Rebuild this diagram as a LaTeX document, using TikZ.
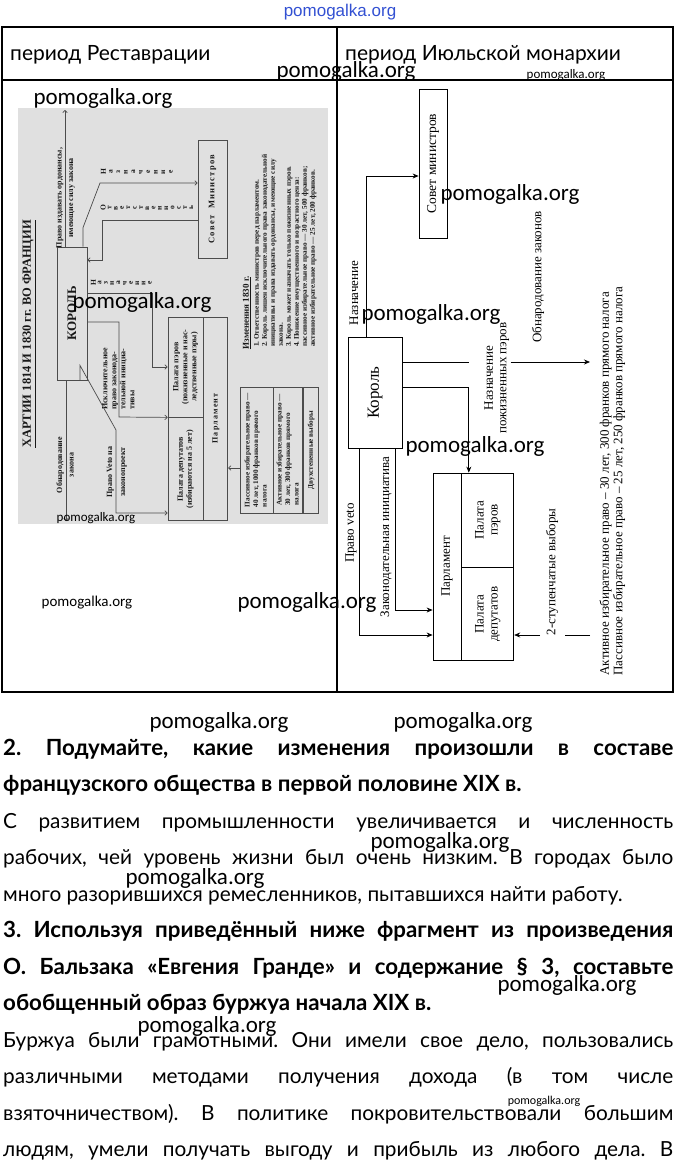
\documentclass[tikz,border=0pt]{standalone}
\usepackage{fontspec}
\setmainfont{Liberation Serif}
\newfontfamily\bodyfont{Lato}
\newfontfamily\wmfont{Carlito}
\newfontfamily\wmtopfont{Liberation Sans}
\usepackage{graphicx}
\usetikzlibrary{positioning,arrows.meta}
\frenchspacing
\definecolor{wmblue}{RGB}{50,80,210}
\tikzstyle{scan box}=[draw=black!70, line width=0.8pt, inner sep=0pt, text=black!90, font=\fontsize{8}{9}\selectfont\bfseries]
\tikzstyle{scan edge}=[-{To[length=3pt,width=5pt]}, draw=black!70, line width=0.7pt]
\tikzstyle{scan text}=[inner sep=0pt, text=black!90, font=\fontsize{8}{9}\selectfont\bfseries]
\tikzstyle{scan letter}=[inner sep=0pt, rotate=90, text=black!90, font=\fontsize{7.5}{8}\selectfont\bfseries]
\tikzstyle{plan box}=[draw, line width=0.8pt, inner sep=0pt, font=\fontsize{13}{14}\selectfont]
\tikzstyle{plan edge}=[-{Stealth[length=6pt,width=5pt]}, line width=0.7pt]
\tikzstyle{plan text}=[inner sep=0pt, font=\fontsize{13}{13.5}\selectfont]
\tikzstyle{watermark}=[inner sep=0pt, font=\wmfont\fontsize{23}{23}\selectfont]
\tikzstyle{small watermark}=[inner sep=0pt, font=\wmfont\fontsize{13}{13}\selectfont]
\tikzstyle{header}=[anchor=base west, inner sep=0pt, font=\bodyfont\fontsize{21}{21}\selectfont]
\tikzstyle{body line}=[anchor=base west, inner sep=0pt, font=\bodyfont\fontsize{20.8}{21}\selectfont]
\tikzstyle{bold line}=[anchor=base west, inner sep=0pt, font=\bodyfont\fontsize{22.3}{23}\selectfont\bfseries]
\newcommand{\vtext}[2][c]{\rotatebox{90}{\begin{tabular}{@{}#1@{}}#2\end{tabular}}}
\newcommand{\wmnode}[3][]{
  \node [watermark, #1] (#2) at (#3) {pomogalka.org}
}
\newcommand{\bodyline}[4][body line]{
  \node [#1] (#2) at (3,#3) {#4}
}
\newcommand{\fullline}[4][body line]{
  \node [#1] (#2) at (3,#3) {\makebox[670pt][s]{#4}}
}

\begin{document}
\begin{tikzpicture}[x=1pt,y=-1pt]
        \useasboundingbox (0,0) rectangle (675,1163);
        \node [inner sep=0pt, text=wmblue, font=\wmtopfont\fontsize{17}{17}\selectfont] (wmTop) at (340,12) {pomogalka.org};

        \draw [line width=1.2pt] (2,27) rectangle (673,692);
        \draw [line width=1.2pt] (2,80) -- (673,80);
        \draw [line width=1.2pt] (337,27) -- (337,692);
        \node [header] (hdrLeft) at (10,60) {период Реставрации};
        \node [header] (hdrRight) at (345,60) {период Июльской монархии};

        \fill [black!12] (18,108) rectangle (328,524);
        \node [scan text, font=\fontsize{12.5}{13}\selectfont\bfseries] (charter) at (29,334) {\rotatebox{90}{\underline{ХАРТИИ 1814 И 1830 гг. ВО ФРАНЦИИ}}};
        \node [scan box, minimum width=30pt, minimum height=133pt] (kingL) at (72,313.5) {\rotatebox{90}{\fontsize{13}{13}\selectfont КОРОЛЬ}};
        \node [scan box, minimum width=29pt, minimum height=118pt] (sovetL) at (212.5,199) {\rotatebox{90}{\fontsize{8.5}{9}\selectfont\addfontfeatures{LetterSpace=15}Совет\ \ Министров}};
        \node [scan box, minimum width=35pt, minimum height=100pt] (peersL) at (185.5,367) {\vtext{Палата пэров\\(пожизненные и нас-\\ледственные пэры)}};
        \node [scan box, minimum width=35pt, minimum height=103pt, below=0pt of peersL] (depsL) {\vtext{Палата депутатов\\(избираются на 5 лет)}};
        \node [scan box, minimum width=24pt, minimum height=203pt, anchor=north west] (parlL) at (peersL.north east) {\rotatebox{90}{\addfontfeatures{LetterSpace=15}Парламент}};
        \node [scan box, minimum width=33pt, minimum height=126pt, font=\fontsize{7.2}{8.5}\selectfont\bfseries] (passL) at (256.5,450) {\vtext[l]{Пассивное избирательное право —\\40 лет, 1000 франков прямого\\налога}};
        \node [scan box, minimum width=29pt, minimum height=126pt, font=\fontsize{7.2}{8.5}\selectfont\bfseries, right=0pt of passL] (actL) {\vtext[l]{Активное избирательное право —\\30 лет, 300 франков прямого\\налога}};
        \node [scan box, minimum width=15pt, minimum height=126pt, font=\fontsize{7.2}{8.5}\selectfont\bfseries, right=0pt of actL] (twoL) {\vtext{Двухстепенные выборы}};
        \node [scan text, font=\fontsize{9}{9}\selectfont\bfseries] (changesTitle) at (247,313) {\rotatebox{90}{\underline{Изменения 1830 г.}}};
        \node [scan text, anchor=south west, font=\fontsize{7.2}{8}\selectfont\bfseries] (changesList) at (253,347) {\vtext[l]{1. Ответственность министров перед парламентом.\\2. Король лишен исключительного права законодательной\\инициативы и права издавать ордонансы, имеющие силу\\закона.\\3. Король может назначать только пожизненных пэров.\\4. Понижение имущественного и возрастного ценза:\\пассивное избирательное право — 30 лет, 500 франков;\\активное избирательное право — 25 лет, 200 франков.}};

        \coordinate (ordTip) at (65,110);
        \coordinate (lawTip) at (66,521);
        \draw [scan edge] ([xshift=-7pt]kingL.north) -- (ordTip);
        \node [scan text, font=\fontsize{8}{11.5}\selectfont\bfseries] (ordLbl) at (65,198) {\vtext{Право издавать ордонансы,\\имеющие силу закона}};
        \draw [scan edge] ([xshift=-6pt]kingL.south) -- (lawTip);
        \node [scan text, font=\fontsize{8}{11.5}\selectfont\bfseries] (lawLbl) at (65.5,465) {\vtext{Обнародование\\закона}};
        \draw [scan edge] ([xshift=11pt]kingL.north) -- ++(0,-19) -- (100,183) -- (sovetL.west |- 0,183);
        \foreach \ch [count=\i] in {Н,а,з,н,а,ч,е,н,и,е}
          \node [scan letter] (appt\i) at ({96+7.5*\i},172) {\ch};
        \draw [scan edge] ([yshift=-21pt]sovetL.west) -- (102,220) -- (102,260) -- (kingL.east |- 0,260);
        \foreach \ch [count=\i] in {О,т,в,е,т,с,т,в,е,н,н,о,с,т,ь}
          \node [scan letter] (resp\i) at ({97+6.3*\i},208) {\ch};
        \draw [scan edge] (kingL.east |- 0,293) -- (152,293) -- (152,367) -- (peersL.west);
        \foreach \ch [count=\i] in {Н,а,з,н,а,ч,е,н,и,е}
          \node [scan letter] (peer\i) at ({87+6.3*\i},283) {\ch};
        \draw [scan edge] (kingL.east |- 0,322) -- (119,322) -- (119,417) -- (depsL.north west);
        \node [scan text, anchor=south] (initLbl) at (119,410) {\vtext[l]{Исключительное\\право законода-\\тельной инициа-\\тивы}};
        \draw [scan edge] ([xshift=8pt]kingL.south) -- ++(0,-15) -- (116,430) -- (116,513) -- (depsL.west |- 0,513);
        \node [scan text, font=\fontsize{8}{13}\selectfont\bfseries] (vetoLbl) at (116,472) {\vtext{Право Veto на\\законопроект}};
        \draw [scan edge] (passL.west |- 0,468) -- (parlL.east |- 0,468);

        \node [plan box, minimum width=28pt, minimum height=149pt] (sovet) at (433,163.5) {\rotatebox{90}{\fontsize{13.5}{14}\selectfont Совет министров}};
        \node [plan box, minimum width=54pt, minimum height=111pt] (king) at (375,392.5) {\rotatebox{90}{\fontsize{17}{17}\selectfont Король}};
        \node [plan box, minimum width=28pt, minimum height=187pt] (parl) at (447,566.5) {\rotatebox{90}{Парламент}};
        \node [plan box, minimum width=52pt, minimum height=94pt, anchor=north west] (peers) at (parl.north east) {\vtext{Палата\\пэров}};
        \node [plan box, minimum width=52pt, minimum height=93pt, below=0pt of peers] (deputies) {\vtext{Палата\\депутатов}};

        \draw [plan edge] ([xshift=-9pt]king.north) |- ([yshift=-12.5pt]sovet.west);
        \node [plan text] (apptR) at (354,293) {\rotatebox{90}{Назначение}};
        \coordinate (promulg) at (590,362);
        \node [plan text] (promLbl) at (538,277) {\rotatebox{90}{Обнародование законов}};
        \node [plan text] (lifeLbl) at (497,378) {\vtext{Назначение\\пожизненных пэров}};
        \draw (king.east |- promulg) -- ([xshift=-19pt]peers.north |- promulg);
        \draw [plan edge] (lifeLbl.east |- promulg) -- (promulg);
        \draw [plan edge] (king.east |- 0,387) -| ([xshift=-19pt]peers.north);
        \draw [plan edge] ([xshift=20pt]king.south) |- (parl.west |- 0,610);
        \node [plan text] (initR) at (386,537) {\rotatebox{90}{Законодательная инициатива}};
        \draw [plan edge] ([xshift=-16pt]king.south) |- (parl.west |- 0,635);
        \node [plan text] (vetoR) at (351,533) {\rotatebox{90}{Право veto}};
        \coordinate (electors) at (590,635);
        \node [plan text] (stepLbl) at (552,572) {\rotatebox{90}{2-ступенчатые выборы}};
        \draw (electors) -- (565,635);
        \draw [plan edge] (540,635) -- (deputies.east |- electors);
        \node [plan text] (suffrage) at (613,481) {\vtext[l]{Активное избирательное право – 30 лет, 300 франков прямого налога\\Пассивное избирательное право – 25 лет, 250 франков прямого налога}};

        \fullline[bold line]{qTwoA}{755}{2. Подумайте, какие изменения произошли в составе};
        \bodyline[bold line]{qTwoB}{791.5}{французского общества в первой половине XIX в.};
        \fullline{aTwoA}{828}{С развитием промышленности увеличивается и численность};
        \fullline{aTwoB}{864.5}{рабочих, чей уровень жизни был очень низким. В городах было};
        \bodyline{aTwoC}{901}{много разорившихся ремесленников, пытавшихся найти работу.};
        \fullline[bold line]{qThreeA}{937.5}{3. Используя приведённый ниже фрагмент из произведения};
        \fullline[bold line]{qThreeB}{974}{О. Бальзака «Евгения Гранде» и содержание §~3, составьте};
        \bodyline[bold line]{qThreeC}{1010.5}{обобщенный образ буржуа начала XIX в.};
        \fullline{aThreeA}{1047}{Буржуа были грамотными. Они имели свое дело, пользовались};
        \fullline{aThreeB}{1083.5}{различными методами получения дохода (в том числе};
        \fullline{aThreeC}{1120}{взяточничеством). В политике покровительствовали большим};
        \fullline{aThreeD}{1156.5}{людям, умели получать выгоду и прибыль из любого дела. В};

        \wmnode{wmA}{346,71};
        \wmnode[small watermark]{wmB}{566,75};
        \wmnode{wmC}{103,98};
        \wmnode{wmD}{510,194};
        \wmnode{wmE}{142,302};
        \wmnode{wmF}{431,314};
        \wmnode[small watermark]{wmG}{96,518};
        \wmnode{wmH}{475,446};
        \wmnode[small watermark, font=\wmfont\fontsize{15}{15}\selectfont]{wmI}{87,603};
        \wmnode{wmJ}{307,602};
        \wmnode{wmK}{219,722};
        \wmnode{wmL}{463,722};
        \wmnode{wmM}{440,842};
        \wmnode{wmN}{195,878};
        \wmnode{wmO}{567,985};
        \wmnode{wmP}{207,1026};
        \wmnode[small watermark, font=\wmfont\fontsize{12}{12}\selectfont]{wmQ}{544,1101};
\end{tikzpicture}
\end{document}
